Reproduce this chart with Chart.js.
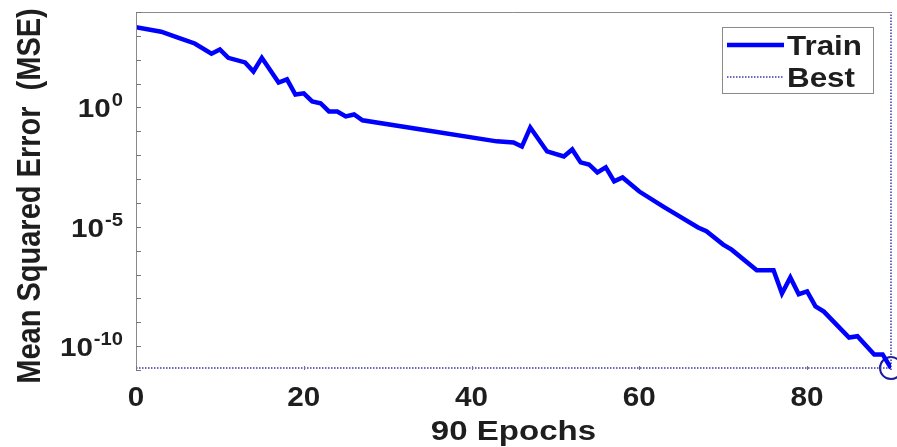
<!DOCTYPE html>
<html>
<head>
<meta charset="utf-8">
<script src="https://cdn.jsdelivr.net/npm/chart.js@4.4.0/dist/chart.umd.min.js"></script>
<style>
html, body { margin: 0; padding: 0; background: #fff; }
canvas { display: block; }
</style>
</head>
<body>
<canvas id="chart" width="897" height="447"></canvas>
<script>
// training curve (epoch, mse)
const epochs = [0, 3, 5, 7, 9, 10, 11, 13, 14, 15, 17, 18, 19, 20, 21, 22, 23, 24, 25, 26, 27, 34, 43, 45, 46, 47,
  49, 51, 52, 53, 54, 55, 56, 57, 58, 60, 63, 64, 67, 68, 70, 71, 74, 76, 77, 78, 79, 80, 81, 82, 85, 86, 88, 89, 90]
const trainMse = [2.3e3, 1.5e3, 8.5e2, 4.8e2, 1.8e2, 2.7e2, 1.2e2, 77, 32, 1.2e2, 11, 15, 3.5, 3.9, 1.8, 1.5, 0.68, 0.68, 0.42, 0.51, 0.29, 0.12, 0.038, 0.034, 0.023, 0.145,
  0.0144, 0.0089, 0.0174, 0.005, 0.0041, 0.0019, 0.0031, 8.0e-4, 1.17e-3, 3.0e-4, 6.5e-5, 4.0e-5, 9.3e-6, 6.5e-6, 1.8e-6, 1.1e-6, 1.5e-7, 1.5e-7, 1.6e-8, 7.6e-8, 1.5e-8, 1.95e-8, 4.6e-9, 2.8e-9, 2.3e-10, 2.6e-10, 4.5e-11, 4.5e-11, 1.2e-11]

const bestEpoch = 90
const bestMse = 1.2e-11
const totalEpochs = 90

const xTickValues = [0, 20, 40, 60, 80]
const yLabelExps = [0, -5, -10]
const yMin = 1e-11
const yMax = 1e4

const FONT = '"Liberation Sans", Arial, Helvetica, sans-serif'
const TEXT = '#1e1e1e'
const BLUE = '#0000ff'
const BEST = '#3a3aa8'

// draw text squeezed/stretched horizontally (the source image is a bit wide)
function stretchText(ctx, s, x, y, size, sx, align) {
  ctx.save()
  ctx.translate(x, y)
  ctx.scale(sx, 1)
  ctx.font = 'bold ' + size + 'px ' + FONT
  ctx.textAlign = align
  ctx.textBaseline = 'alphabetic'
  ctx.fillText(s, 0, 0)
  ctx.restore()
}

const matlabLook = {
  id: 'matlabLook',
  afterDraw(chart) {
    const { ctx, chartArea: a, scales: { x, y } } = chart
    ctx.save()

    // left axis + top edge
    ctx.strokeStyle = '#8a8a8a'
    ctx.lineWidth = 1
    ctx.beginPath()
    ctx.moveTo(a.left + 0.5, a.bottom)
    ctx.lineTo(a.left + 0.5, a.top + 0.5)
    ctx.lineTo(a.right, a.top + 0.5)
    ctx.stroke()

    // inward tick marks
    ctx.strokeStyle = '#777'
    y.ticks.forEach(t => {
      const py = Math.round(y.getPixelForValue(t.value)) + 0.5
      ctx.beginPath()
      ctx.moveTo(a.left, py)
      ctx.lineTo(a.left + 5, py)
      ctx.stroke()
    })
    x.ticks.forEach(t => {
      const px = Math.round(x.getPixelForValue(t.value)) + 0.5
      ctx.beginPath()
      ctx.moveTo(px, a.bottom)
      ctx.lineTo(px, a.bottom - 4)
      ctx.stroke()
    })

    ctx.fillStyle = TEXT

    // y tick labels 10^n
    yLabelExps.forEach(e => {
      const py = y.getPixelForValue(Math.pow(10, e))
      const sup = e < 0 ? '-' + (-e) : String(e)
      ctx.font = 'bold 18px ' + FONT
      const supW = ctx.measureText(sup).width * 1.12
      const right = 123
      stretchText(ctx, sup, right, py - 1, 18, 1.12, 'right')
      stretchText(ctx, '10', right - supW - 1, py + 10, 26, 1.14, 'right')
    })

    // x tick labels
    x.ticks.forEach(t => {
      stretchText(ctx, String(t.value), x.getPixelForValue(t.value), 406, 27, 1.1, 'center')
    })

    // axis titles
    stretchText(ctx, totalEpochs + ' Epochs', (a.left + a.right) / 2, 440, 28, 1.18, 'center')
    ctx.save()
    ctx.translate(40, 196)
    ctx.rotate(-Math.PI / 2)
    ctx.scale(1, 1.15)
    ctx.font = 'bold 29px ' + FONT
    ctx.textAlign = 'center'
    ctx.fillText('Mean Squared Error  (MSE)', 0, 0)
    ctx.restore()

    // legend box
    const train = chart.data.datasets[0]
    const best = chart.data.datasets[1]
    ctx.fillStyle = '#fff'
    ctx.fillRect(722, 27, 151, 66)
    ctx.strokeStyle = '#8a8a8a'
    ctx.lineWidth = 1
    ctx.strokeRect(722.5, 27.5, 151, 66)

    ctx.strokeStyle = train.borderColor
    ctx.lineWidth = train.borderWidth
    ctx.beginPath()
    ctx.moveTo(727, 45)
    ctx.lineTo(784, 45)
    ctx.stroke()

    ctx.strokeStyle = best.borderColor
    ctx.lineWidth = best.borderWidth
    ctx.setLineDash(best.borderDash)
    ctx.beginPath()
    ctx.moveTo(727, 77)
    ctx.lineTo(784, 77)
    ctx.stroke()
    ctx.setLineDash([])

    ctx.fillStyle = TEXT
    stretchText(ctx, train.label, 787, 55, 28, 1.12, 'left')
    stretchText(ctx, best.label, 787, 87, 28, 1.12, 'left')

    ctx.restore()
  }
}

new Chart(document.getElementById('chart'), {
  type: 'line',
  data: {
    datasets: [
      {
        label: 'Train',
        data: epochs.map((e, i) => ({ x: e, y: trainMse[i] })),
        borderColor: BLUE,
        borderWidth: 4.5,
        pointRadius: 0,
        tension: 0
      },
      {
        label: 'Best',
        data: [{ x: 0, y: bestMse }, { x: totalEpochs, y: bestMse }],
        borderColor: BEST,
        borderWidth: 1.5,
        borderDash: [1.5, 1.5],
        pointRadius: 0,
        clip: false
      },
      {
        label: 'bestVertical',
        data: [{ x: bestEpoch, y: yMin }, { x: bestEpoch, y: yMax }],
        borderColor: BEST,
        borderWidth: 1.5,
        borderDash: [1.5, 1.5],
        pointRadius: 0,
        clip: false
      },
      {
        label: 'bestPoint',
        data: [{ x: bestEpoch, y: bestMse }],
        showLine: false,
        pointRadius: 11,
        pointBorderWidth: 2,
        pointBorderColor: '#1a1a9a',
        pointBackgroundColor: 'rgba(0,0,0,0)',
        clip: false
      }
    ]
  },
  options: {
    responsive: false,
    animation: false,
    layout: { autoPadding: false, padding: { left: 0, right: 6, top: 12, bottom: 0 } },
    plugins: {
      legend: { display: false },
      tooltip: { enabled: false }
    },
    scales: {
      x: {
        type: 'linear',
        min: 0,
        max: totalEpochs,
        grid: { display: false },
        border: { display: false },
        ticks: { display: false },
        afterBuildTicks: s => { s.ticks = xTickValues.map(v => ({ value: v })) },
        afterFit: s => { s.height = 77 }
      },
      y: {
        type: 'logarithmic',
        min: yMin,
        max: yMax,
        grid: { display: false },
        border: { display: false },
        ticks: { display: false },
        afterBuildTicks: s => {
          const t = []
          for (let e = Math.log10(yMin); e <= Math.log10(yMax); e++) t.push({ value: Math.pow(10, e) })
          s.ticks = t
        },
        afterFit: s => { s.width = 136 }
      }
    }
  },
  plugins: [matlabLook]
})
</script>
</body>
</html>
